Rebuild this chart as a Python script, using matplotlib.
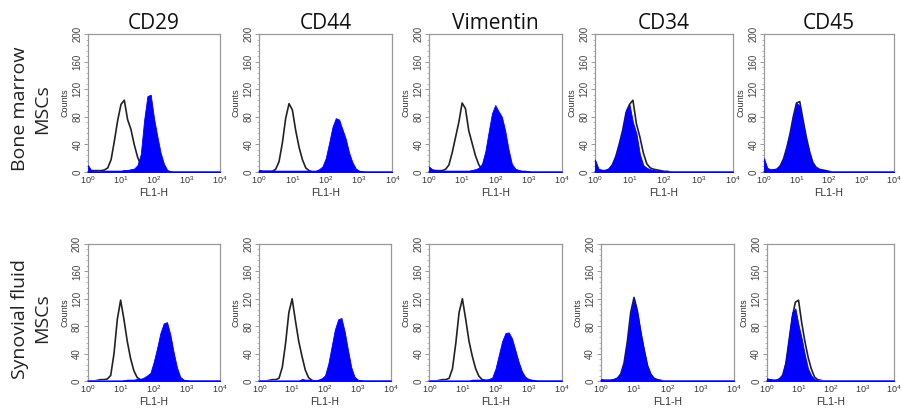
import matplotlib
matplotlib.use("Agg")
import matplotlib.pyplot as plt
from matplotlib.ticker import FixedLocator, MultipleLocator
import numpy as np

# ---------------- data ----------------
markers = ["CD29", "CD44", "Vimentin", "CD34", "CD45"]
rows = ["Bone marrow\nMSCs", "Synovial fluid\nMSCs"]

# log10 of the FL1-H channel positions (bin centres)
channel_log = [0.0, 0.1, 0.2, 0.3, 0.4, 0.5, 0.6, 0.7, 0.8, 0.9,
               1.0, 1.1, 1.2, 1.3, 1.4, 1.5, 1.6, 1.7, 1.8, 1.9,
               2.0, 2.1, 2.2, 2.3, 2.4, 2.5, 2.6, 2.7, 2.8, 2.9,
               3.0, 3.1, 3.2, 3.3, 3.4, 3.5, 3.6, 3.7, 3.8, 3.9, 4.0]

xtick_values = [1, 10, 100, 1000, 10000]
xtick_labels = [r"$\mathregular{10^{0}}$", r"$\mathregular{10^{1}}$", r"$\mathregular{10^{2}}$",
                r"$\mathregular{10^{3}}$", r"$\mathregular{10^{4}}$"]
ytick_values = [0, 40, 80, 120, 160, 200]

# Bone marrow MSCs: isotype control (black line) and marker (blue filled)
bm_cd29_iso = [4, 2, 2, 2, 2, 3, 6, 18, 45, 75, 98, 104, 76, 62, 40, 22, 10, 3, 1, 0,
               0, 0, 0, 0, 0, 0, 0, 0, 0, 0, 0, 0, 0, 0, 0, 0, 0, 0, 0, 0, 0]
bm_cd29_pos = [10, 2, 1, 1, 1, 2, 2, 2, 2, 2, 2, 3, 3, 4, 5, 10, 26, 75, 110, 112,
               78, 52, 28, 12, 3, 1, 0, 0, 0, 0, 0, 0, 0, 0, 0, 0, 0, 0, 0, 0, 0]
bm_cd44_iso = [2, 1, 1, 1, 1, 4, 15, 42, 78, 99, 90, 60, 36, 18, 6, 2, 0, 0, 0, 0,
               0, 0, 0, 0, 0, 0, 0, 0, 0, 0, 0, 0, 0, 0, 0, 0, 0, 0, 0, 0, 0]
bm_cd44_pos = [3, 2, 2, 2, 2, 2, 2, 2, 2, 2, 2, 2, 2, 2, 2, 2, 2, 2, 4, 8,
               20, 42, 65, 78, 76, 62, 48, 28, 14, 5, 2, 1, 0, 0, 0, 0, 0, 0, 0, 0, 0]
bm_vim_iso = [6, 3, 2, 2, 2, 4, 10, 28, 50, 72, 100, 92, 60, 42, 24, 11, 3, 1, 0, 0,
              0, 0, 0, 0, 0, 0, 0, 0, 0, 0, 0, 0, 0, 0, 0, 0, 0, 0, 0, 0, 0]
bm_vim_pos = [8, 3, 2, 2, 2, 2, 2, 2, 2, 2, 2, 2, 2, 3, 4, 6, 12, 30, 58, 85,
              97, 88, 80, 60, 33, 12, 5, 3, 2, 2, 1, 0, 0, 0, 0, 0, 0, 0, 0, 0, 0]
bm_cd34_iso = [3, 2, 2, 2, 4, 10, 22, 40, 60, 86, 98, 104, 70, 51, 28, 12, 6, 4, 3, 2,
               1, 1, 0, 0, 0, 0, 0, 0, 0, 0, 0, 0, 0, 0, 0, 0, 0, 0, 0, 0, 0]
bm_cd34_pos = [18, 5, 3, 3, 5, 12, 24, 42, 62, 90, 98, 72, 56, 26, 10, 6, 4, 3, 2, 2,
               1, 1, 0, 0, 0, 0, 0, 0, 0, 0, 0, 0, 0, 0, 0, 0, 0, 0, 0, 0, 0]
bm_cd45_iso = [3, 2, 2, 3, 4, 9, 19, 35, 55, 80, 100, 102, 76, 51, 30, 14, 7, 4, 3, 2,
               1, 0, 0, 0, 0, 0, 0, 0, 0, 0, 0, 0, 0, 0, 0, 0, 0, 0, 0, 0, 0]
bm_cd45_pos = [20, 6, 4, 4, 5, 10, 20, 38, 58, 80, 100, 96, 68, 45, 27, 13, 6, 4, 3, 2,
               1, 0, 0, 0, 0, 0, 0, 0, 0, 0, 0, 0, 0, 0, 0, 0, 0, 0, 0, 0, 0]

# Synovial fluid MSCs
sf_cd29_iso = [0, 0, 0, 1, 2, 2, 3, 8, 40, 90, 118, 90, 58, 33, 15, 5, 2, 1, 0, 0,
               0, 0, 0, 0, 0, 0, 0, 0, 0, 0, 0, 0, 0, 0, 0, 0, 0, 0, 0, 0, 0]
sf_cd29_pos = [0, 0, 0, 0, 0, 0, 0, 0, 0, 0, 0, 1, 2, 2, 2, 3, 3, 5, 8, 12,
               28, 48, 70, 84, 86, 68, 42, 20, 6, 2, 1, 0, 0, 0, 0, 0, 0, 0, 0, 0, 0]
sf_cd44_iso = [0, 0, 0, 1, 2, 2, 4, 20, 55, 100, 120, 88, 58, 36, 16, 5, 1, 0, 0, 0,
               0, 0, 0, 0, 0, 0, 0, 0, 0, 0, 0, 0, 0, 0, 0, 0, 0, 0, 0, 0, 0]
sf_cd44_pos = [0, 0, 0, 0, 0, 0, 0, 0, 0, 0, 0, 0, 0, 3, 2, 2, 1, 1, 2, 4,
               8, 25, 50, 75, 90, 92, 72, 45, 20, 6, 2, 1, 0, 0, 0, 0, 0, 0, 0, 0, 0]
sf_vim_iso = [0, 0, 0, 1, 2, 2, 4, 18, 55, 100, 120, 90, 58, 36, 18, 7, 2, 1, 0, 0,
              0, 0, 0, 0, 0, 0, 0, 0, 0, 0, 0, 0, 0, 0, 0, 0, 0, 0, 0, 0, 0]
sf_vim_pos = [0, 0, 0, 0, 0, 0, 0, 0, 0, 0, 0, 0, 0, 2, 2, 2, 2, 2, 3, 5,
              18, 38, 58, 70, 71, 62, 45, 28, 14, 6, 3, 2, 1, 0, 0, 0, 0, 0, 0, 0, 0]
sf_cd34_iso = [1, 1, 1, 1, 2, 4, 10, 26, 58, 100, 122, 102, 72, 46, 23, 10, 4, 2, 1, 0,
               0, 0, 0, 0, 0, 0, 0, 0, 0, 0, 0, 0, 0, 0, 0, 0, 0, 0, 0, 0, 0]
sf_cd34_pos = [3, 2, 2, 2, 3, 5, 12, 28, 60, 100, 120, 100, 70, 45, 22, 10, 4, 2, 1, 0,
               0, 0, 0, 0, 0, 0, 0, 0, 0, 0, 0, 0, 0, 0, 0, 0, 0, 0, 0, 0, 0]
sf_cd45_iso = [1, 1, 1, 1, 3, 8, 25, 58, 92, 115, 118, 85, 58, 35, 18, 6, 2, 1, 0, 0,
               0, 0, 0, 0, 0, 0, 0, 0, 0, 0, 0, 0, 0, 0, 0, 0, 0, 0, 0, 0, 0]
sf_cd45_pos = [4, 3, 2, 2, 4, 10, 30, 65, 100, 106, 82, 62, 38, 18, 8, 3, 1, 0, 0, 0,
               0, 0, 0, 0, 0, 0, 0, 0, 0, 0, 0, 0, 0, 0, 0, 0, 0, 0, 0, 0, 0]

panel_data = [
    [(bm_cd29_iso, bm_cd29_pos), (bm_cd44_iso, bm_cd44_pos), (bm_vim_iso, bm_vim_pos),
     (bm_cd34_iso, bm_cd34_pos), (bm_cd45_iso, bm_cd45_pos)],
    [(sf_cd29_iso, sf_cd29_pos), (sf_cd44_iso, sf_cd44_pos), (sf_vim_iso, sf_vim_pos),
     (sf_cd34_iso, sf_cd34_pos), (sf_cd45_iso, sf_cd45_pos)],
]

# ---------------- layout (pixels) ----------------
W, H = 903, 411
col_edges = [
    [(88, 220), (259, 392.5), (429, 561.5), (595, 733), (764, 894)],
    [(87.5, 220), (259.3, 390.7), (429.3, 561.7), (600.7, 734), (766.7, 894)],
]
row_edges = [(34, 172), (244, 381)]

plt.rcParams["mathtext.default"] = "regular"
plt.rcParams["font.family"] = ["Liberation Sans", "DejaVu Sans"]

fig = plt.figure(figsize=(W / 100, H / 100), dpi=100)
fig.patch.set_facecolor("white")

BLUE = "#0000ff"
x = 10 ** np.array(channel_log)

for r in range(2):
    top, bot = row_edges[r]
    for c in range(5):
        l, rr = col_edges[r][c]
        ax = fig.add_axes([l / W, 1 - bot / H, (rr - l) / W, (bot - top) / H])
        iso, pos = panel_data[r][c]
        ax.plot(x, iso, color="#222222", lw=1.2, zorder=2)
        ax.fill_between(x, 0, pos, color=BLUE, lw=0.6, edgecolor=BLUE, zorder=3)
        ax.set_xscale("log")
        ax.set_xlim(1, 10000)
        ax.set_ylim(0, 200)
        ax.xaxis.set_major_locator(FixedLocator(xtick_values))
        ax.xaxis.set_minor_locator(FixedLocator([]))
        ax.set_xticklabels(xtick_labels)
        ax.set_yticks(ytick_values)
        ax.yaxis.set_minor_locator(MultipleLocator(8))
        ax.tick_params(axis="x", length=0, pad=2, labelsize=6.5, labelcolor="#333333")
        ax.tick_params(axis="y", which="major", length=3, width=0.6, color="#888888",
                       pad=1, labelsize=7, labelcolor="#444444", labelrotation=90)
        ax.tick_params(axis="y", which="minor", length=1.5, width=0.5, color="#999999")
        for lab in ax.get_yticklabels():
            lab.set_va("center")
        for side in ["top", "left", "right"]:
            ax.spines[side].set_color("#9a9a9a")
            ax.spines[side].set_linewidth(0.9)
        ax.spines["bottom"].set_color("#4a4aff")
        ax.spines["bottom"].set_linewidth(1.2)
        ax.set_xlabel("FL1-H", fontsize=7.5, color="#333333", labelpad=1)
        ax.set_ylabel("Counts", fontsize=6.5, color="#333333", labelpad=2)
        if r == 0:
            ax.set_title(markers[c], fontsize=15, family=["Open Sans", "DejaVu Sans"],
                         color="#111111", pad=3)

for r in range(2):
    top, bot = row_edges[r]
    yc = (top + bot) / 2 + 6
    fig.text(31 / W, 1 - yc / H, rows[r], rotation=90, ha="center", va="center",
             fontsize=14, family=["Open Sans", "DejaVu Sans"], color="#222222",
             linespacing=1.25)

fig.savefig("out.png", dpi=100, facecolor="white")
